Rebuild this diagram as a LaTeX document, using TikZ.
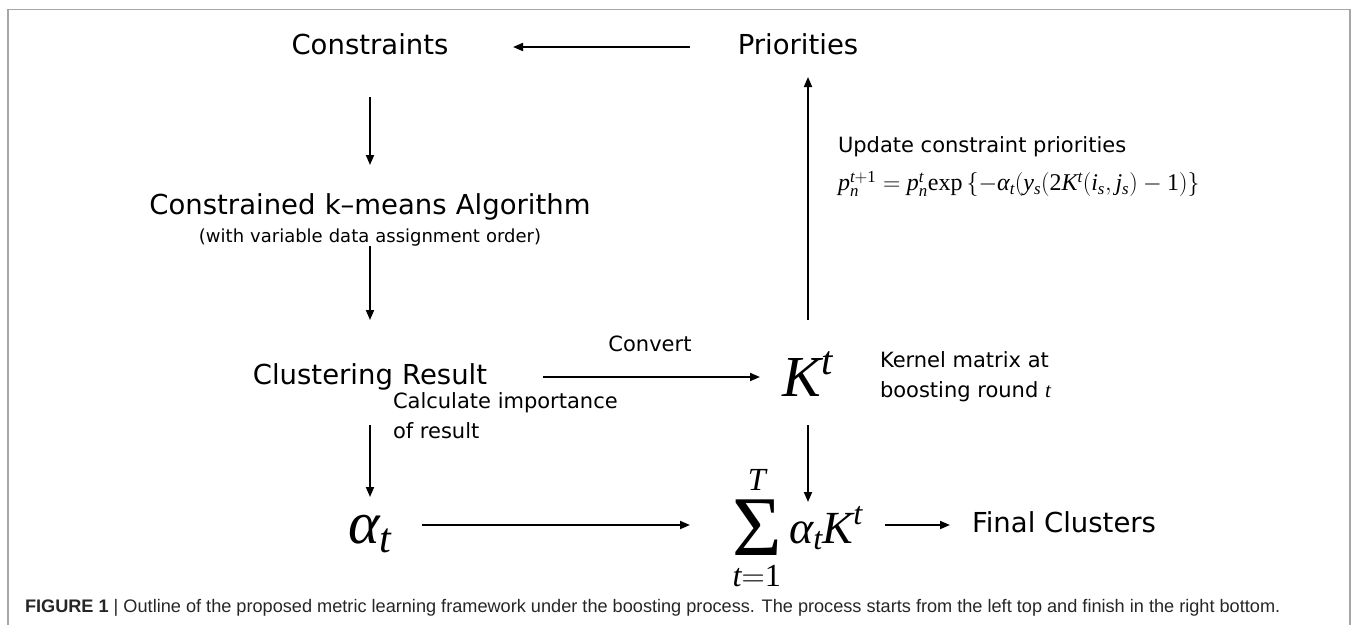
\RequirePackage{fix-cm}
\documentclass[tikz,border=0pt]{standalone}
\usepackage[no-math]{fontspec}
\setmainfont{DejaVu Sans}
\newfontfamily\capfont{Liberation Sans}
\newfontfamily\tms{Liberation Serif}[NFSSFamily=libser]
\DeclareSymbolFont{tmsit}{TU}{libser}{m}{it}
\DeclareSymbolFont{tmsrm}{TU}{libser}{m}{n}
\DeclareMathSymbol{K}{\mathalpha}{tmsit}{`K}
\DeclareMathSymbol{T}{\mathalpha}{tmsit}{`T}
\DeclareMathSymbol{t}{\mathalpha}{tmsit}{`t}
\DeclareMathSymbol{p}{\mathalpha}{tmsit}{`p}
\DeclareMathSymbol{n}{\mathalpha}{tmsit}{`n}
\DeclareMathSymbol{y}{\mathalpha}{tmsit}{`y}
\DeclareMathSymbol{s}{\mathalpha}{tmsit}{`s}
\DeclareMathSymbol{i}{\mathalpha}{tmsit}{`i}
\DeclareMathSymbol{j}{\mathalpha}{tmsit}{`j}
\DeclareMathSymbol{1}{\mathalpha}{tmsrm}{`1}
\DeclareMathSymbol{2}{\mathalpha}{tmsrm}{`2}
\Umathchardef\alpha="0 \symtmsit "03B1
\newcommand\myexp{\mbox{\tms exp}}
\newcommand\bigsig{\mathop{\raisebox{-12pt}[51pt][21pt]{\tms\fontsize{85}{85}\selectfont Σ}}\limits}
\usetikzlibrary{arrows.meta,calc}
\begin{document}
\begin{tikzpicture}[x=1pt,y=-1pt,
  every node/.style={inner sep=0pt, outer sep=0pt},
  big/.style={font=\fontsize{27.5}{32}\selectfont, text height=21pt, text depth=6pt, align=center},
  med/.style={font=\fontsize{21}{30}\selectfont, align=left},
  small/.style={font=\fontsize{18}{22}\selectfont, text height=14pt, text depth=4pt, align=center},
  arr/.style={line width=1.8pt, -{Triangle[length=10pt,width=8pt]}},
  framestyle/.style={draw=black!35, line width=1.5pt}]
\useasboundingbox (0,0) rectangle (1354,625);
\draw[framestyle] (8,625) -- (8,9.5) -- (1350,9.5) -- (1350,625);

\node[big, text width=160pt] (con) at (370,47) {Constraints};
\node[big, text width=125pt] (pri) at (798,47) {Priorities};
\node[big, text width=450pt] (ckm) at (370,207) {Constrained k–means Algorithm};
\node[small, text width=360pt] (sub) at (370,237) {(with variable data assignment order)};
\node[big, text width=240pt] (clu) at (370,377) {Clustering Result};
\node[font=\fontsize{58}{60}\selectfont, text width=56pt, text height=40pt, text depth=2pt, align=center] (K) at (808,377) {$K^t$};
\node[med] (cvt) at (650,344) {Convert};
\node[med, anchor=west] (ker) at (880,377) {Kernel matrix at\\boosting round $t$};
\node[med, anchor=west] (upd) at (838,147) {Update constraint priorities};
\node[anchor=west, font=\fontsize{24}{26}\selectfont] (frm) at (838,184) {$p_n^{t+1}=p_n^t\myexp\left\{-\alpha_t(y_s(2K^t(i_s,j_s)-1)\right\}$};
\node[med, anchor=west] (calc) at (393,416) {Calculate importance\\of result};
\node[font=\fontsize{60}{60}\selectfont, text width=60pt, text height=40pt, text depth=4pt, align=center] (alp) at (370,525) {$\alpha_t$};
\node[anchor=west, font=\fontsize{46}{48}\selectfont, text width=145pt, text height=60pt, text depth=24pt, align=left] (sum) at (732,525) {$\displaystyle\bigsig_{t=1}^{T}\alpha_t K^t$};
\node[big, anchor=west] (fin) at (972,525) {Final Clusters};
\node[anchor=west, font=\capfont\fontsize{18.15}{20}\selectfont, text=black!85] (cap) at (25,608) {\textbf{FIGURE 1} | Outline of the proposed metric learning framework under the boosting process. The process starts from the left top and finish in the right bottom.};

\draw[arr, shorten <=45.5pt, shorten >=63pt] (pri) -- (con);
\draw[arr, shorten <=36.5pt, shorten >=28.5pt] (con) -- (ckm);
\draw[arr, shorten <=0pt, shorten >=43.5pt] (sub) -- (clu);
\draw[arr, shorten <=53pt, shorten >=20pt] (clu) -- (K);
\draw[arr, shorten <=36pt, shorten >=16.5pt] (K.north) -- (K.north |- pri.south);
\draw[arr, shorten <=27pt, shorten >=23pt] (K.south) -- (K.south |- sum.center);
\draw[arr, shorten <=34.5pt, shorten >=6pt] (clu) -- (alp);
\draw[arr, shorten <=22pt, shorten >=42pt] (alp) -- (sum);
\draw[arr, shorten <=8pt, shorten >=22pt] (sum) -- (fin);
\end{tikzpicture}
\end{document}
